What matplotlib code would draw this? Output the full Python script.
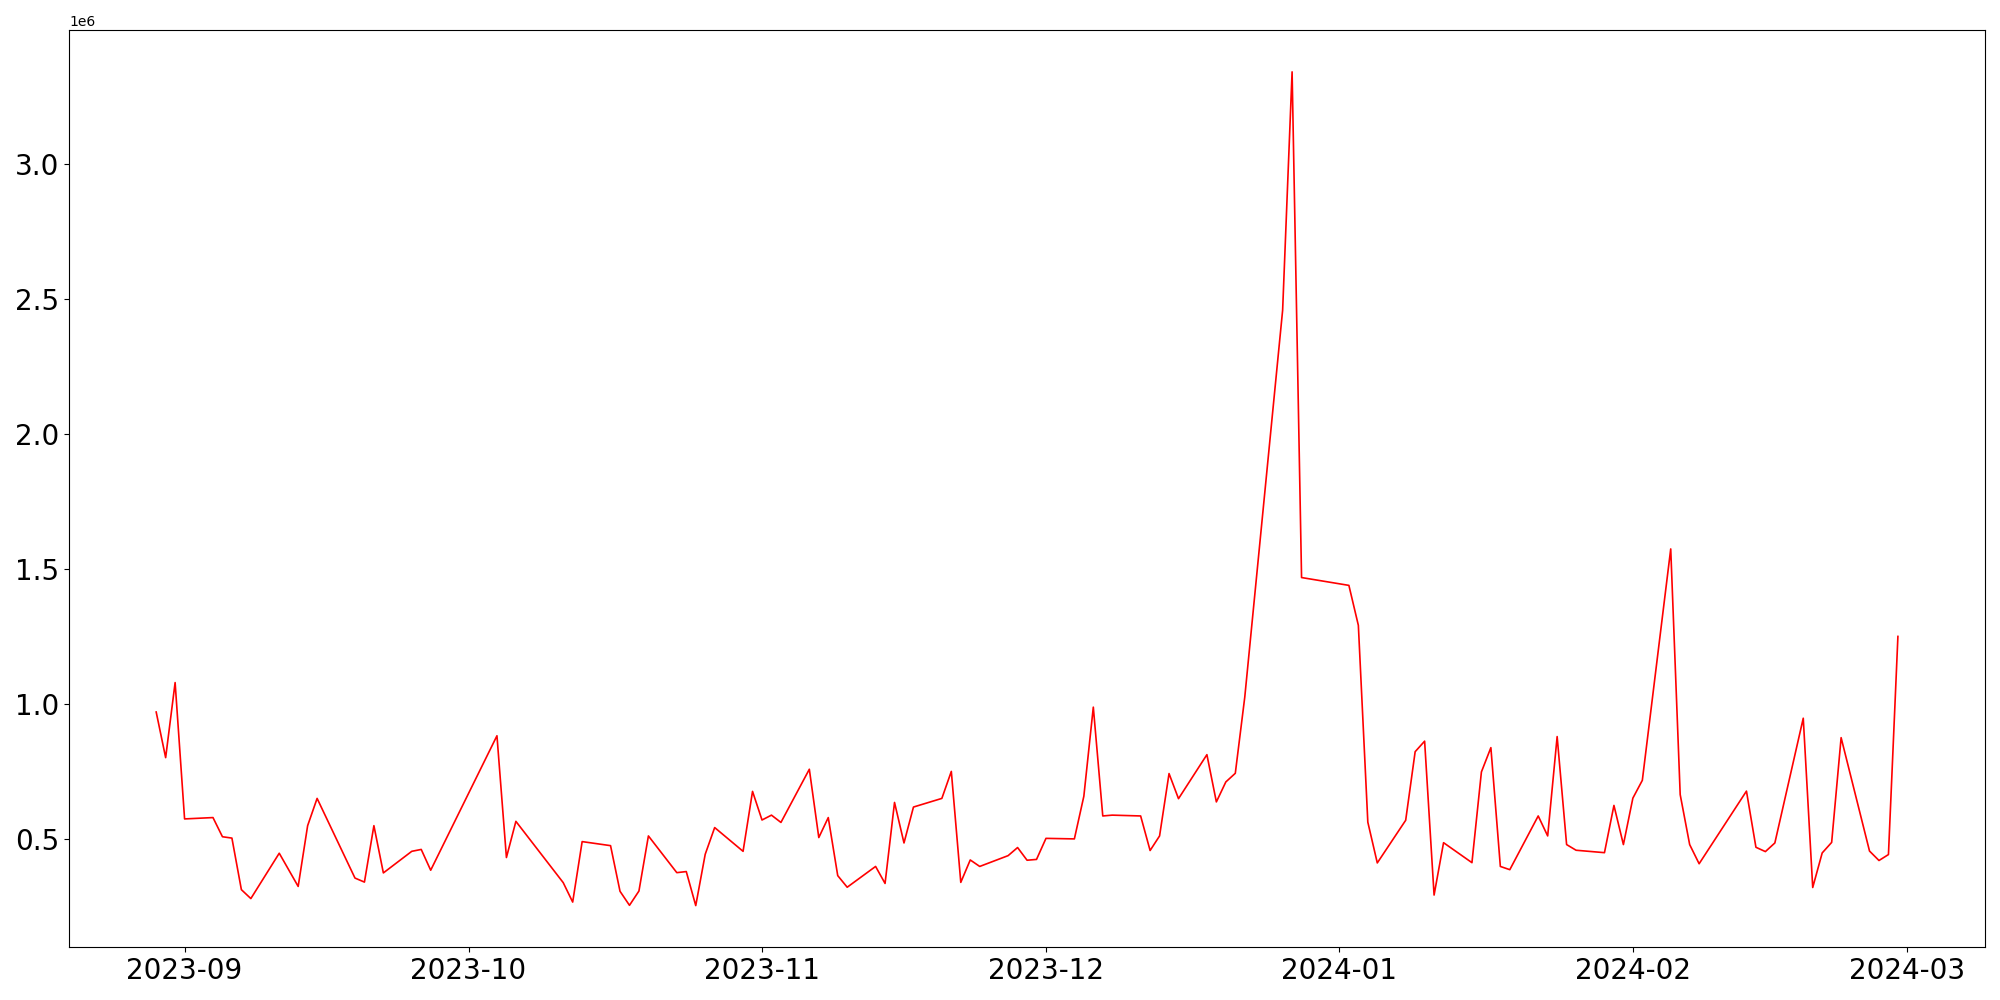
import pandas as pd
import matplotlib
matplotlib.use("Agg")
import matplotlib.pyplot as plt

# daily values
dates = [
    "2023-08-29", "2023-08-30", "2023-08-31", "2023-09-01", "2023-09-04", "2023-09-05",
    "2023-09-06", "2023-09-07", "2023-09-08", "2023-09-11", "2023-09-13", "2023-09-14",
    "2023-09-15", "2023-09-19", "2023-09-20", "2023-09-21", "2023-09-22", "2023-09-25",
    "2023-09-26", "2023-09-27", "2023-10-04", "2023-10-05", "2023-10-06", "2023-10-11",
    "2023-10-12", "2023-10-13", "2023-10-16", "2023-10-17", "2023-10-18", "2023-10-19",
    "2023-10-20", "2023-10-23", "2023-10-24", "2023-10-25", "2023-10-26", "2023-10-27",
    "2023-10-30", "2023-10-31", "2023-11-01", "2023-11-02", "2023-11-03", "2023-11-06",
    "2023-11-07", "2023-11-08", "2023-11-09", "2023-11-10", "2023-11-13", "2023-11-14",
    "2023-11-15", "2023-11-16", "2023-11-17", "2023-11-20", "2023-11-21", "2023-11-22",
    "2023-11-23", "2023-11-24", "2023-11-27", "2023-11-28", "2023-11-29", "2023-11-30",
    "2023-12-01", "2023-12-04", "2023-12-05", "2023-12-06", "2023-12-07", "2023-12-08",
    "2023-12-11", "2023-12-12", "2023-12-13", "2023-12-14", "2023-12-15", "2023-12-18",
    "2023-12-19", "2023-12-20", "2023-12-21", "2023-12-22", "2023-12-26", "2023-12-27",
    "2023-12-28", "2024-01-02", "2024-01-03", "2024-01-04", "2024-01-05", "2024-01-08",
    "2024-01-09", "2024-01-10", "2024-01-11", "2024-01-12", "2024-01-15", "2024-01-16",
    "2024-01-17", "2024-01-18", "2024-01-19", "2024-01-22", "2024-01-23", "2024-01-24",
    "2024-01-25", "2024-01-26", "2024-01-29", "2024-01-30", "2024-01-31", "2024-02-01",
    "2024-02-02", "2024-02-05", "2024-02-06", "2024-02-07", "2024-02-08", "2024-02-13",
    "2024-02-14", "2024-02-15", "2024-02-16", "2024-02-19", "2024-02-20", "2024-02-21",
    "2024-02-22", "2024-02-23", "2024-02-26", "2024-02-27", "2024-02-28", "2024-02-29",
]

values = [
    0.969, 0.800, 1.078, 0.573, 0.578, 0.507,
    0.502, 0.311, 0.278, 0.446, 0.323, 0.548,
    0.649, 0.354, 0.339, 0.548, 0.373, 0.453,
    0.460, 0.383, 0.881, 0.430, 0.564, 0.337,
    0.265, 0.489, 0.474, 0.305, 0.253, 0.306,
    0.510, 0.374, 0.378, 0.252, 0.442, 0.541,
    0.453, 0.675, 0.569, 0.587, 0.560, 0.757,
    0.504, 0.578, 0.363, 0.320, 0.397, 0.334,
    0.634, 0.484, 0.617, 0.649, 0.749, 0.338,
    0.421, 0.397, 0.437, 0.467, 0.420, 0.423,
    0.501, 0.499, 0.657, 0.987, 0.584, 0.587,
    0.584, 0.456, 0.510, 0.741, 0.648, 0.811,
    0.636, 0.710, 0.742, 1.024, 2.457, 3.340,
    1.467, 1.438, 1.290, 0.561, 0.410, 0.568,
    0.822, 0.861, 0.291, 0.485, 0.411, 0.747,
    0.837, 0.397, 0.385, 0.584, 0.510, 0.878,
    0.478, 0.457, 0.448, 0.623, 0.478, 0.650,
    0.716, 1.573, 0.663, 0.478, 0.407, 0.676,
    0.468, 0.452, 0.484, 0.946, 0.319, 0.447,
    0.486, 0.874, 0.454, 0.419, 0.441, 1.249,
]

series = pd.Series([v * 1e6 for v in values], index=pd.to_datetime(dates))

plt.figure(figsize=(20, 10), dpi=100)
plt.plot(series.index, series.values, color="red", linewidth=1.2)

plt.xticks(fontsize=20)
plt.yticks(fontsize=20)

plt.tight_layout()
plt.savefig("out.png")
